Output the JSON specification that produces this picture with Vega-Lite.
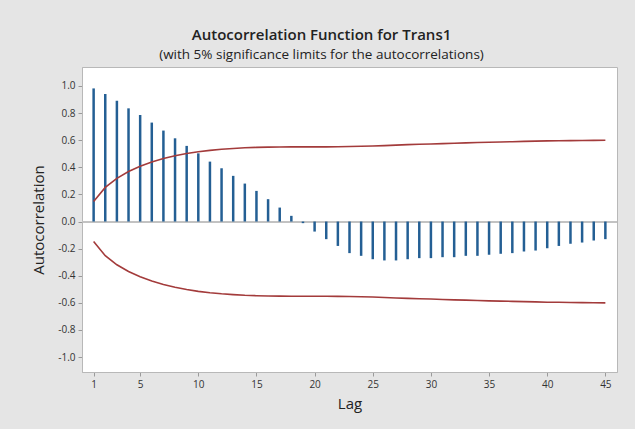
{
  "$schema": "https://vega.github.io/schema/vega-lite/v6.json",
  "width": 535,
  "height": 305,
  "autosize": {"type": "none"},
  "padding": {"left": 82, "top": 67, "right": 18, "bottom": 57},
  "background": "#e5e5e5",
  "config": {
    "font": "Open Sans",
    "view": {"fill": "white", "stroke": "#b8b8b8", "strokeWidth": 1},
    "axis": {
      "grid": false,
      "domainColor": "#b8b8b8",
      "tickColor": "#9a9a9a",
      "tickSize": 4,
      "labelColor": "#333333",
      "labelFontSize": 10,
      "labelOverlap": false,
      "titleColor": "#222222",
      "titleFontSize": 15,
      "titleFontWeight": "normal"
    }
  },
  "title": {
    "text": "Autocorrelation Function for Trans1",
    "subtitle": "(with 5% significance limits for the autocorrelations)",
    "anchor": "middle",
    "frame": "group",
    "dx": -28,
    "offset": 6,
    "fontSize": 15,
    "fontWeight": 600,
    "color": "#222222",
    "subtitleFontSize": 13.5,
    "subtitleColor": "#222222",
    "subtitlePadding": 5
  },
  "data": {
    "values": [
      {"lag": 1, "acf": 0.982, "upper": 0.147, "lower": -0.147},
      {"lag": 2, "acf": 0.941, "upper": 0.252, "lower": -0.252},
      {"lag": 3, "acf": 0.891, "upper": 0.319, "lower": -0.319},
      {"lag": 4, "acf": 0.835, "upper": 0.369, "lower": -0.369},
      {"lag": 5, "acf": 0.786, "upper": 0.407, "lower": -0.407},
      {"lag": 6, "acf": 0.730, "upper": 0.439, "lower": -0.439},
      {"lag": 7, "acf": 0.671, "upper": 0.465, "lower": -0.465},
      {"lag": 8, "acf": 0.614, "upper": 0.485, "lower": -0.485},
      {"lag": 9, "acf": 0.558, "upper": 0.502, "lower": -0.502},
      {"lag": 10, "acf": 0.503, "upper": 0.515, "lower": -0.515},
      {"lag": 11, "acf": 0.442, "upper": 0.525, "lower": -0.525},
      {"lag": 12, "acf": 0.393, "upper": 0.533, "lower": -0.533},
      {"lag": 13, "acf": 0.337, "upper": 0.539, "lower": -0.539},
      {"lag": 14, "acf": 0.280, "upper": 0.544, "lower": -0.544},
      {"lag": 15, "acf": 0.226, "upper": 0.547, "lower": -0.547},
      {"lag": 16, "acf": 0.165, "upper": 0.549, "lower": -0.549},
      {"lag": 17, "acf": 0.103, "upper": 0.550, "lower": -0.550},
      {"lag": 18, "acf": 0.042, "upper": 0.551, "lower": -0.551},
      {"lag": 19, "acf": -0.012, "upper": 0.551, "lower": -0.551},
      {"lag": 20, "acf": -0.074, "upper": 0.551, "lower": -0.551},
      {"lag": 21, "acf": -0.130, "upper": 0.551, "lower": -0.551},
      {"lag": 22, "acf": -0.180, "upper": 0.552, "lower": -0.552},
      {"lag": 23, "acf": -0.233, "upper": 0.553, "lower": -0.553},
      {"lag": 24, "acf": -0.253, "upper": 0.555, "lower": -0.555},
      {"lag": 25, "acf": -0.278, "upper": 0.557, "lower": -0.557},
      {"lag": 26, "acf": -0.287, "upper": 0.560, "lower": -0.560},
      {"lag": 27, "acf": -0.287, "upper": 0.564, "lower": -0.564},
      {"lag": 28, "acf": -0.278, "upper": 0.567, "lower": -0.567},
      {"lag": 29, "acf": -0.270, "upper": 0.570, "lower": -0.570},
      {"lag": 30, "acf": -0.270, "upper": 0.572, "lower": -0.572},
      {"lag": 31, "acf": -0.263, "upper": 0.575, "lower": -0.575},
      {"lag": 32, "acf": -0.263, "upper": 0.578, "lower": -0.578},
      {"lag": 33, "acf": -0.253, "upper": 0.580, "lower": -0.580},
      {"lag": 34, "acf": -0.253, "upper": 0.583, "lower": -0.583},
      {"lag": 35, "acf": -0.245, "upper": 0.585, "lower": -0.585},
      {"lag": 36, "acf": -0.238, "upper": 0.587, "lower": -0.587},
      {"lag": 37, "acf": -0.233, "upper": 0.589, "lower": -0.589},
      {"lag": 38, "acf": -0.221, "upper": 0.591, "lower": -0.591},
      {"lag": 39, "acf": -0.214, "upper": 0.593, "lower": -0.593},
      {"lag": 40, "acf": -0.197, "upper": 0.595, "lower": -0.595},
      {"lag": 41, "acf": -0.180, "upper": 0.596, "lower": -0.596},
      {"lag": 42, "acf": -0.164, "upper": 0.597, "lower": -0.597},
      {"lag": 43, "acf": -0.155, "upper": 0.598, "lower": -0.598},
      {"lag": 44, "acf": -0.140, "upper": 0.599, "lower": -0.599},
      {"lag": 45, "acf": -0.130, "upper": 0.600, "lower": -0.600}
    ]
  },
  "encoding": {
    "x": {
      "field": "lag",
      "type": "quantitative",
      "scale": {"domain": [0, 46], "nice": false, "zero": false},
      "axis": {
        "title": "Lag",
        "values": [1, 5, 10, 15, 20, 25, 30, 35, 40, 45],
        "tickCount": 20,
        "titlePadding": 7,
        "labelPadding": 3
      }
    }
  },
  "layer": [
    {
      "mark": {"type": "rule", "color": "#c4c4c4", "strokeWidth": 1},
      "encoding": {
        "x": {"datum": 0},
        "x2": {"datum": 46},
        "y": {
          "datum": 0,
          "type": "quantitative",
          "scale": {"domain": [-1.11, 1.14], "nice": false},
          "axis": {
            "title": "Autocorrelation",
            "values": [-1, -0.8, -0.6, -0.4, -0.2, 0, 0.2, 0.4, 0.6, 0.8, 1],
            "tickCount": 20,
            "labelExpr": "datum.value < -0.001 ? '-' + format(-datum.value, '.1f') : format(abs(datum.value), '.1f')",
            "labelOverlap": false,
            "titlePadding": 11,
            "labelPadding": 3
          }
        }
      }
    },
    {
      "mark": {"type": "rule", "color": "#245f94", "strokeWidth": 2.5},
      "encoding": {
        "y": {"field": "acf", "type": "quantitative"},
        "y2": {"datum": 0}
      }
    },
    {
      "mark": {"type": "line", "color": "#a33b3b", "strokeWidth": 1.6},
      "encoding": {"y": {"field": "upper", "type": "quantitative"}}
    },
    {
      "mark": {"type": "line", "color": "#a33b3b", "strokeWidth": 1.6},
      "encoding": {"y": {"field": "lower", "type": "quantitative"}}
    }
  ]
}
